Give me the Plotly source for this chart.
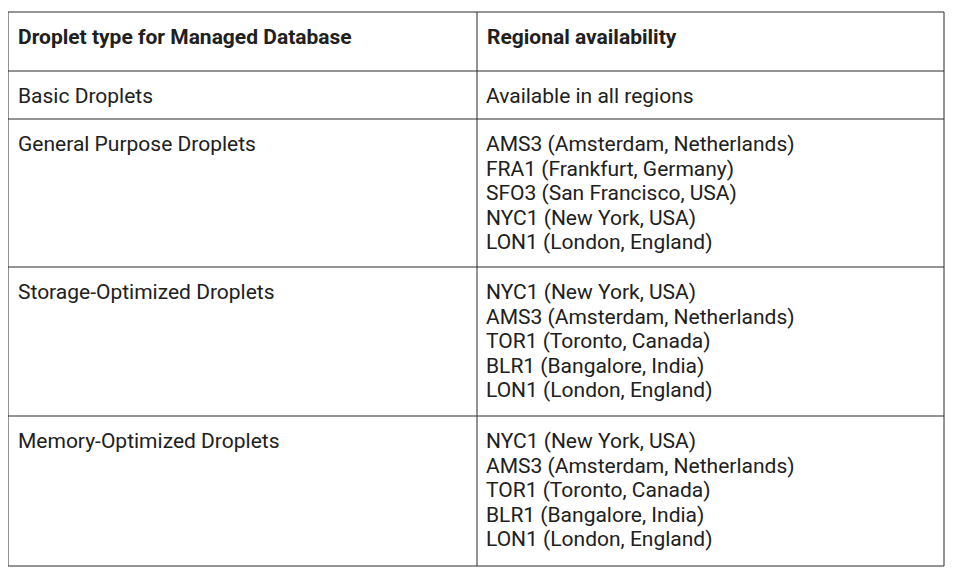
import plotly.graph_objects as go

header_labels = ["Droplet type for Managed Database", "Regional availability"]
droplet_types = [
    "Basic Droplets",
    "General Purpose Droplets",
    "Storage-Optimized Droplets",
    "Memory-Optimized Droplets",
]
availability = [
    ["Available in all regions"],
    ["AMS3 (Amsterdam, Netherlands)", "FRA1 (Frankfurt, Germany)", "SFO3 (San Francisco, USA)",
     "NYC1 (New York, USA)", "LON1 (London, England)"],
    ["NYC1 (New York, USA)", "AMS3 (Amsterdam, Netherlands)", "TOR1 (Toronto, Canada)",
     "BLR1 (Bangalore, India)", "LON1 (London, England)"],
    ["NYC1 (New York, USA)", "AMS3 (Amsterdam, Netherlands)", "TOR1 (Toronto, Canada)",
     "BLR1 (Bangalore, India)", "LON1 (London, England)"],
]

# ---- layout (pixel coordinates of the grid, in window pixels) ----
W, H = 953, 572
page_offset = 8  # default body margin of the page
col_edges = [8, 477, 944]
row_edges = [12, 71, 119, 267, 416, 566]
pad_x = 10
first_line_offset = 26.8
line_pitch = 24.6
font_size = 21
text_color = "#202020"
grid_color = "#2a2a2a"

fig = go.Figure()

# header text
hx, hy, ht = [], [], []
for c, label in enumerate(header_labels):
    hx.append(col_edges[c] + pad_x)
    hy.append((row_edges[0] + row_edges[1]) / 2 - 3)
    ht.append(f"<b>{label}</b>")
fig.add_trace(go.Scatter(x=hx, y=hy, text=ht, mode="text", textposition="middle right",
                         textfont=dict(family="Roboto", size=font_size, color=text_color),
                         hoverinfo="skip", showlegend=False))

# body text
bx, by, bt = [], [], []
for r, (name, regions) in enumerate(zip(droplet_types, availability)):
    top = row_edges[r + 1]
    bx.append(col_edges[0] + pad_x)
    by.append(top + first_line_offset)
    bt.append(name)
    for i, reg in enumerate(regions):
        bx.append(col_edges[1] + pad_x - 1)
        by.append(top + first_line_offset + i * line_pitch)
        bt.append(reg)
fig.add_trace(go.Scatter(x=bx, y=by, text=bt, mode="text", textposition="middle right",
                         textfont=dict(family="Roboto", size=font_size, color=text_color),
                         hoverinfo="skip", showlegend=False))

# grid lines
for y in row_edges:
    fig.add_shape(type="line", x0=col_edges[0], x1=col_edges[-1], y0=y, y1=y,
                  xref="x", yref="y", line=dict(color=grid_color, width=1))
for x in col_edges:
    fig.add_shape(type="line", x0=x, x1=x, y0=row_edges[0], y1=row_edges[-1],
                  xref="x", yref="y", line=dict(color=grid_color, width=1))

fig.update_xaxes(range=[page_offset, page_offset + W], visible=False, fixedrange=True)
fig.update_yaxes(range=[page_offset + H, page_offset], visible=False, fixedrange=True)
fig.update_layout(width=W, height=H, margin=dict(l=0, r=0, t=0, b=0),
                  paper_bgcolor="white", plot_bgcolor="white")
fig.write_html("out.html")
